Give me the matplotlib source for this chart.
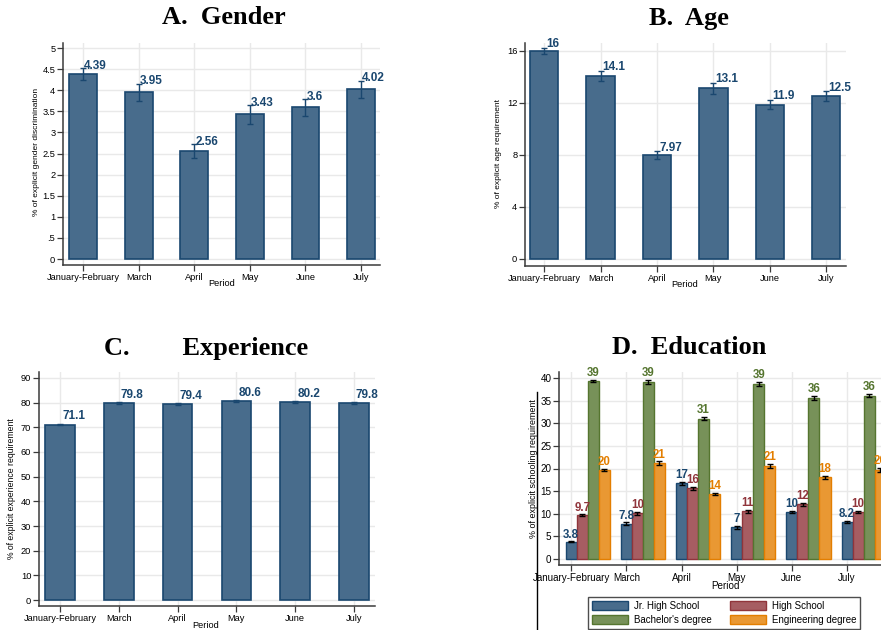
import matplotlib
matplotlib.use("Agg")
import matplotlib.pyplot as plt
from matplotlib.lines import Line2D
from matplotlib.patches import Patch
import numpy as np

# ---------------- data ----------------
periods = ["January-February", "March", "April", "May", "June", "July"]

gender_vals = [4.39, 3.95, 2.56, 3.43, 3.60, 4.02]
gender_err = [0.135, 0.21, 0.165, 0.23, 0.20, 0.21]

age_vals = [15.97, 14.08, 7.97, 13.11, 11.87, 12.54]
age_err = [0.25, 0.37, 0.30, 0.43, 0.35, 0.37]

exp_vals = [71.1, 79.8, 79.4, 80.6, 80.2, 79.8]
exp_err = [0.25, 0.3, 0.3, 0.35, 0.3, 0.3]

edu_series = ["Jr. High School", "High School", "Bachelor's degree", "Engineering degree"]
edu_jr = [3.8, 7.8, 16.7, 7.0, 10.4, 8.2]
edu_hs = [9.7, 10.1, 15.6, 10.6, 12.1, 10.4]
edu_ba = [39.3, 39.1, 31.0, 38.6, 35.6, 36.1]
edu_en = [19.7, 21.2, 14.4, 20.6, 18.1, 19.7]
edu_jr_err = [0.1, 0.3, 0.35, 0.3, 0.3, 0.3]
edu_hs_err = [0.15, 0.3, 0.35, 0.35, 0.35, 0.3]
edu_ba_err = [0.3, 0.4, 0.4, 0.5, 0.4, 0.4]
edu_en_err = [0.3, 0.4, 0.3, 0.5, 0.35, 0.4]

gender_ticks = [0, 0.5, 1, 1.5, 2, 2.5, 3, 3.5, 4, 4.5, 5]
gender_ticklabels = ["0", ".5", "1", "1.5", "2", "2.5", "3", "3.5", "4", "4.5", "5"]
age_ticks = [0, 4, 8, 12, 16]
exp_ticks = [0, 10, 20, 30, 40, 50, 60, 70, 80, 90]
edu_ticks = [0, 5, 10, 15, 20, 25, 30, 35, 40]

# ---------------- style ----------------
W, H = 881, 630
SANS = ["Liberation Sans", "DejaVu Sans"]
SERIF = ["Liberation Serif", "DejaVu Serif"]
plt.rcParams["font.family"] = SANS

def c(r, g, b):
    return (r / 255, g / 255, b / 255)

NAVY = c(26, 71, 111)
NAVY_F = c(72, 108, 140)
MAROON = c(144, 53, 59)
MAROON_F = c(166, 93, 98)
GREEN = c(85, 117, 47)
GREEN_F = c(119, 145, 89)
ORANGE = c(227, 126, 0)
ORANGE_F = c(233, 152, 51)
SPINE = "#3a3a3a"
GRID = "#e9e9e9"

fig = plt.figure(figsize=(W / 100, H / 100), dpi=100)

def px_axes(l, t, r, b):
    return fig.add_axes([l / W, 1 - b / H, (r - l) / W, (b - t) / H])

def style_axes(ax, yticks, yticklabels, ylim, xlim, n, tick_fs):
    ax.set_xlim(*xlim)
    ax.set_ylim(*ylim)
    ax.set_yticks(yticks)
    ax.set_yticklabels(yticklabels if yticklabels is not None else [str(v) for v in yticks])
    ax.set_xticks(range(n))
    ax.set_xticklabels(periods)
    for s in ["top", "right"]:
        ax.spines[s].set_visible(False)
    for s in ["left", "bottom"]:
        ax.spines[s].set_color(SPINE)
        ax.spines[s].set_linewidth(1.1)
    ax.tick_params(axis="both", colors=SPINE, length=4, width=0.9, labelcolor="black",
                   labelsize=tick_fs, pad=1.5)
    ax.grid(True, color=GRID, linewidth=1.0, zorder=0)
    ax.set_axisbelow(True)

def add_ylabel(x, y, text, fs):
    fig.text(x / W, 1 - y / H, text, rotation=90, ha="center", va="center", fontsize=fs)

def add_xlabel(x, y, fs):
    fig.text(x / W, 1 - y / H, "Period", ha="center", va="center", fontsize=fs)

def add_title(x, y, text):
    fig.text(x / W, 1 - y / H, text, ha="center", va="center", fontsize=19,
             fontweight="bold", family=SERIF)

def single_bars(ax, vals, errs, fmt, dx, dy, capsize):
    x = np.arange(len(vals))
    ax.bar(x, vals, width=0.5, color=NAVY_F, edgecolor=NAVY, linewidth=1.2, zorder=2)
    ax.errorbar(x, vals, yerr=errs, fmt="none", ecolor=NAVY, elinewidth=1.0,
                capsize=capsize, capthick=1.0, zorder=3)
    for xi, v, e in zip(x, vals, errs):
        ax.annotate(fmt % v, (xi, v + e), xytext=(dx, dy), textcoords="offset points",
                    ha="left", va="center", fontsize=8.5, fontweight="bold", color=NAVY,
                    annotation_clip=False, zorder=4)

# ---------------- Panel A ----------------
axA = px_axes(63, 43, 380, 265)
single_bars(axA, gender_vals, gender_err, "%.3g", 0.7, 1.5, 2.5)
style_axes(axA, gender_ticks, gender_ticklabels, (-0.14, 5.12), (-0.36, 5.34), 6, 6.7)
add_ylabel(37, 152, "% of explicit gender discrimination", 6)
add_xlabel(222, 284, 6.7)
add_title(224, 18, "A.  Gender")

# ---------------- Panel B ----------------
axB = px_axes(525, 43, 846, 266)
single_bars(axB, age_vals, age_err, "%.3g", 1.5, 2.5, 2.5)
style_axes(axB, age_ticks, None, (-0.55, 16.6), (-0.34, 5.35), 6, 6.7)
add_ylabel(499, 153, "% of explicit age requirement", 6)
add_xlabel(685, 285, 6.7)
add_title(689, 18, "B.  Age")

# ---------------- Panel C ----------------
axC = px_axes(39, 372, 375, 606)
single_bars(axC, exp_vals, exp_err, "%.3g", 1.5, 5.5, 2.0)
style_axes(axC, exp_ticks, None, (-2.4, 92.4), (-0.36, 5.36), 6, 6.7)
add_ylabel(12, 489, "% of explicit experience requirement", 6.2)
add_xlabel(206, 626, 6.7)
add_title(206, 348, "C.        Experience")

# ---------------- Panel D ----------------
axD = px_axes(559, 372, 905, 565)
xD = np.arange(len(periods))
series = [
    (edu_jr, edu_jr_err, NAVY_F, NAVY),
    (edu_hs, edu_hs_err, MAROON_F, MAROON),
    (edu_ba, edu_ba_err, GREEN_F, GREEN),
    (edu_en, edu_en_err, ORANGE_F, ORANGE),
]
bw = 0.2
for k, (vals, errs, fc, ec) in enumerate(series):
    xs = xD + k * bw
    axD.bar(xs, vals, width=bw, color=fc, edgecolor=ec, linewidth=1.0, zorder=2)
    axD.errorbar(xs, vals, yerr=errs, fmt="none", ecolor="black", elinewidth=1.0,
                 capsize=2.2, capthick=1.0, zorder=3)
    for xi, v, e in zip(xs, vals, errs):
        axD.annotate("%.2g" % v, (xi, v + e), xytext=(0, 0.5), textcoords="offset points",
                     ha="center", va="bottom", fontsize=8.3, fontweight="bold", color=ec,
                     annotation_clip=False, zorder=4)
style_axes(axD, edu_ticks, None, (-1.3, 41.3), (-0.22, 6.05), 6, 7.1)
add_ylabel(533, 469, "% of explicit schooling requirement", 6.4)
add_xlabel(726, 586, 7.1)
add_title(689, 348, "D.  Education")

handles = [Patch(facecolor=fc, edgecolor=ec, linewidth=1.0) for (_, _, fc, ec) in series]
order = [0, 2, 1, 3]
leg = fig.legend([handles[i] for i in order], [edu_series[i] for i in order], ncol=2,
                 loc="upper left", bbox_to_anchor=(588 / W, 1 - 597 / H),
                 fontsize=7, frameon=True, fancybox=False, edgecolor="#222222",
                 handlelength=3.7, handleheight=0.95, handletextpad=0.6,
                 columnspacing=1.9, labelspacing=0.4, borderpad=0.4, borderaxespad=0)
leg.get_frame().set_linewidth(1.0)

fig.add_artist(Line2D([537 / W, 537 / W], [1 - 392 / H, 0], color="black", linewidth=1.0))

fig.savefig("out.png", dpi=100)
